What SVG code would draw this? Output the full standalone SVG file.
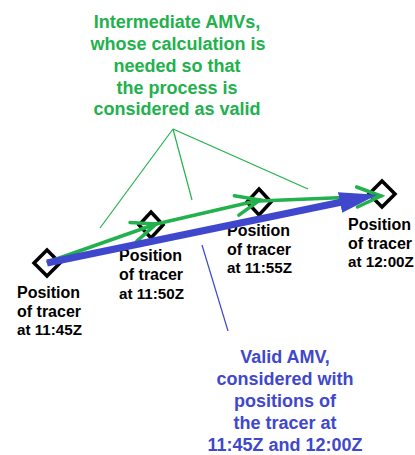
<svg xmlns="http://www.w3.org/2000/svg" width="415" height="455" viewBox="0 0 415 455">
<style>
.bg{fill:#ffffff}
.lbl{font-family:"Liberation Sans",Arial,sans-serif;font-weight:bold;font-size:16px;fill:#000000}
.lbl2{font-family:"Liberation Sans",Arial,sans-serif;font-weight:bold;font-size:15.2px;fill:#000000}
.gtxt{font-family:"Liberation Sans",Arial,sans-serif;font-weight:bold;font-size:18px;fill:#22b14c;text-anchor:middle}
.btxt{font-family:"Liberation Sans",Arial,sans-serif;font-weight:bold;font-size:18px;fill:#3f48cc;text-anchor:middle}
.dia{fill:none;stroke:#000000;stroke-width:3.5}
.gline{fill:none;stroke:#22b14c;stroke-width:3.5;stroke-linecap:round}
.glead{fill:none;stroke:#22b14c;stroke-width:1.2}
.blead{fill:none;stroke:#3f48cc;stroke-width:1.2}
.bline{fill:none;stroke:#3f48cc;stroke-width:7}
</style>
<defs>
<marker id="gopen" markerUnits="userSpaceOnUse" markerWidth="32" markerHeight="32" viewBox="-28 -16 32 32" refX="0" refY="0" orient="auto">
<path d="M-24,-10 L0,0 L-24,10" fill="none" stroke="#22b14c" stroke-width="3.5" stroke-linecap="round"/>
</marker>
<marker id="bhead" markerUnits="userSpaceOnUse" markerWidth="44" markerHeight="26" viewBox="0 -13 44 26" refX="2" refY="0" orient="auto">
<path d="M0,-10.5 L38,0 L0,10.5 Z" fill="#3f48cc"/>
</marker>
</defs>
<rect class="bg" x="0" y="0" width="415" height="455"/>

<g id="title-intermediate">
<text class="gtxt" x="177" y="28">Intermediate AMVs,</text>
<text class="gtxt" x="178" y="50">whose calculation is</text>
<text class="gtxt" x="177" y="72">needed so that</text>
<text class="gtxt" x="177" y="94">the process is</text>
<text class="gtxt" x="177" y="115">considered as valid</text>
</g>

<g id="title-valid">
<text class="btxt" x="285" y="363">Valid AMV,</text>
<text class="btxt" x="285" y="385">considered with</text>
<text class="btxt" x="285" y="407">positions of</text>
<text class="btxt" x="285" y="429">the tracer at</text>
<text class="btxt" x="285" y="451">11:45Z and 12:00Z</text>
</g>

<g id="node-1145">
<path class="dia" d="M47,250 L60,263 L47,276 L34,263 Z"/>
<text class="lbl" x="17" y="298">Position</text>
<text class="lbl" x="17" y="317">of tracer</text>
<text class="lbl2" x="17" y="335">at 11:45Z</text>
</g>

<g id="node-1150">
<path class="dia" d="M151,212 L163,225 L151,238 L139,225 Z"/>
<text class="lbl" x="119" y="261">Position</text>
<text class="lbl" x="119" y="280">of tracer</text>
<text class="lbl2" x="119" y="299">at 11:50Z</text>
</g>

<g id="node-1155">
<path class="dia" d="M259,189 L271,202 L259,215 L247,202 Z"/>
<text class="lbl" x="227" y="236">Position</text>
<text class="lbl" x="227" y="255">of tracer</text>
<text class="lbl2" x="227" y="273">at 11:55Z</text>
</g>

<g id="node-1200">
<path class="dia" d="M382,181 L395,194 L382,207 L369,194 Z"/>
<text class="lbl" x="348" y="230">Position</text>
<text class="lbl" x="348" y="249">of tracer</text>
<text class="lbl2" x="348" y="267">at 12:00Z</text>
</g>

<g id="connectors">
<line class="glead" x1="173" y1="129" x2="100" y2="228"/>
<line class="glead" x1="173" y1="129" x2="192" y2="200"/>
<line class="glead" x1="173" y1="129" x2="308" y2="189"/>
<line class="blead" x1="202" y1="245" x2="228" y2="331"/>
<line class="gline" x1="48" y1="262" x2="156" y2="224" marker-end="url(#gopen)"/>
<line class="gline" x1="152" y1="225" x2="260" y2="200" marker-end="url(#gopen)"/>
<line class="gline" x1="259" y1="201" x2="381" y2="196" marker-end="url(#gopen)"/>
<line class="bline" x1="47" y1="263" x2="342" y2="202" marker-end="url(#bhead)"/>
</g>
</svg>
